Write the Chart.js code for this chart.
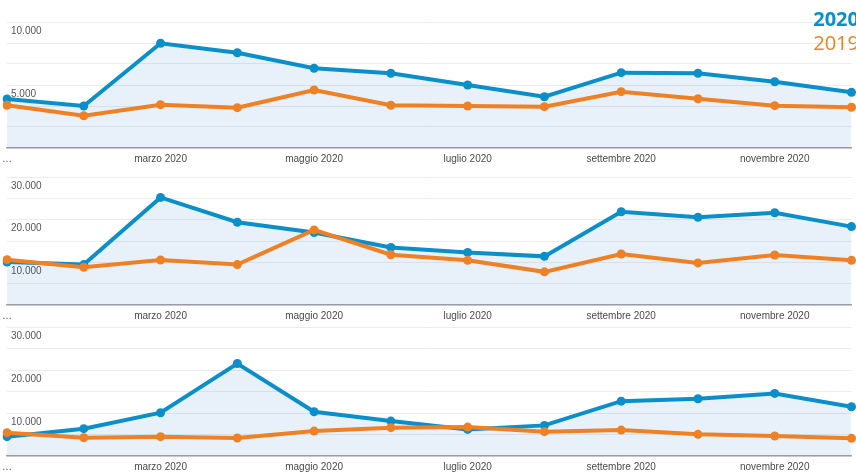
<!DOCTYPE html>
<html>
<head>
<meta charset="utf-8">
<script src="https://cdn.jsdelivr.net/npm/chart.js@4.4.1/dist/chart.umd.min.js"></script>
<style>
  html, body { margin: 0; padding: 0; background: #fff; overflow: hidden; }
  body { width: 856px; height: 473px; position: relative; }
  canvas { position: absolute; left: 0; }
  .legend { position: absolute; right: -3px; font-family: "Open Sans", sans-serif; font-size: 20px; line-height: 24px; z-index: 2; }
  #leg2020 { top: 7px; color: #0b8fcb; font-weight: bold; }
  #leg2019 { top: 31px; color: #ef8124; }
</style>
</head>
<body>
<div class="legend" id="leg2020">2020</div>
<div class="legend" id="leg2019">2019</div>
<canvas id="chart1" width="856" height="165" style="top:0px"></canvas>
<canvas id="chart2" width="856" height="157" style="top:165px"></canvas>
<canvas id="chart3" width="856" height="151" style="top:322px"></canvas>
<script>
const months = [
  "gennaio 2020", "febbraio 2020", "marzo 2020", "aprile 2020", "maggio 2020", "giugno 2020",
  "luglio 2020", "agosto 2020", "settembre 2020", "ottobre 2020", "novembre 2020", "dicembre 2020"
];
const tickLabels = ["…", "", "marzo 2020", "", "maggio 2020", "", "luglio 2020", "", "settembre 2020", "", "novembre 2020", ""];

const panel1_2020 = [3890, 3330, 8310, 7560, 6330, 5930, 5000, 4070, 5980, 5930, 5260, 4420];
const panel1_2019 = [3390, 2560, 3440, 3200, 4600, 3390, 3330, 3280, 4470, 3910, 3360, 3230];
const panel2_2020 = [10090, 9470, 25210, 19390, 16980, 13490, 12330, 11400, 21860, 20560, 21630, 18370];
const panel2_2019 = [10630, 8840, 10560, 9470, 17600, 11790, 10470, 7770, 11950, 9860, 11720, 10470];
const panel3_2020 = [4500, 6360, 10070, 21510, 10300, 8120, 6190, 7120, 12760, 13320, 14550, 11460];
const panel3_2019 = [5430, 4270, 4500, 4180, 5800, 6590, 6730, 5660, 6030, 5030, 4640, 4110];

const yMax = [10000, 30000, 30000];
const yLabelStep = [5000, 10000, 10000];

const BLUE = "#0b8fcb";
const ORANGE = "#ef8124";
const FONT = "'Liberation Sans', Arial, sans-serif";

function fmt(v) {
  return String(Math.round(v)).replace(/\B(?=(\d{3})+(?!\d))/g, ".");
}

function makeChart(id, data2020, data2019, max, labelStep, padTop) {
  const ctx = document.getElementById(id).getContext("2d");
  return new Chart(ctx, {
    type: "line",
    data: {
      labels: months,
      datasets: [
        {
          label: "2019",
          data: data2019,
          borderColor: ORANGE,
          backgroundColor: ORANGE,
          borderWidth: 4,
          pointRadius: 4.5,
          pointBorderWidth: 0,
          pointBackgroundColor: ORANGE,
          fill: false,
          tension: 0,
        },
        {
          label: "2020",
          data: data2020,
          borderColor: BLUE,
          backgroundColor: "rgba(30, 120, 200, 0.1)",
          borderWidth: 4,
          pointRadius: 4.5,
          pointBorderWidth: 0,
          pointBackgroundColor: BLUE,
          fill: "origin",
          tension: 0,
        },
      ],
    },
    options: {
      responsive: false,
      animation: false,
      devicePixelRatio: 1,
      layout: { padding: { left: 7, right: 3, top: padTop, bottom: 0 } },
      plugins: { legend: { display: false }, tooltip: { enabled: false } },
      scales: {
        x: {
          grid: { display: false, drawTicks: false },
          border: { display: true, color: "#a3a3a3", width: 1.5 },
          ticks: {
            autoSkip: false,
            maxRotation: 0,
            padding: 5,
            color: "#4a4a4a",
            font: { family: FONT, size: 10 },
            callback: (value, index) => tickLabels[index],
          },
          afterFit: (scale) => {
            scale.height = 17;
            scale.paddingLeft = 0;
            scale.paddingRight = 0;
          },
        },
        y: {
          min: 0,
          max: max,
          border: { display: false },
          grid: { color: "#ececec", drawTicks: false },
          ticks: {
            count: 7,
            mirror: true,
            padding: 4,
            labelOffset: 9,
            color: "#555",
            font: { family: FONT, size: 10 },
            callback: (value) => {
              const r = value / labelStep;
              return value > 0 && Math.abs(r - Math.round(r)) < 0.001 ? fmt(value) : "";
            },
          },
          afterFit: (scale) => {
            scale.width = 0;
            scale.paddingTop = 0;
            scale.paddingBottom = 0;
          },
        },
      },
    },
  });
}

makeChart("chart1", panel1_2020, panel1_2019, yMax[0], yLabelStep[0], 22);
makeChart("chart2", panel2_2020, panel2_2019, yMax[1], yLabelStep[1], 12);
makeChart("chart3", panel3_2020, panel3_2019, yMax[2], yLabelStep[2], 5);
</script>
</body>
</html>
